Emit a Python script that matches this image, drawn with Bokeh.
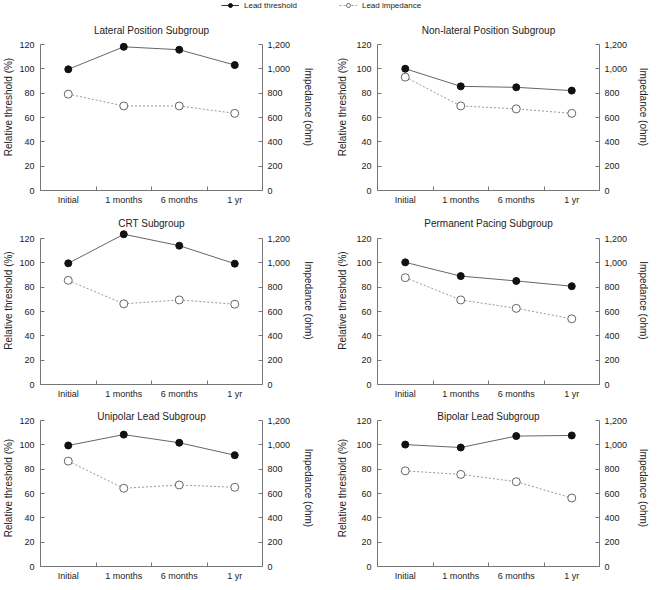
from bokeh.plotting import figure
from bokeh.models import Range1d, LinearAxis, FixedTicker, NumeralTickFormatter, Label, Legend, LegendItem
from bokeh.layouts import column, row
from bokeh.embed import file_html
from bokeh.resources import INLINE

# ---------------- data ----------------
categories = ["Initial", "1 months", "6 months", "1 yr"]

titles = ["Lateral Position Subgroup", "Non-lateral Position Subgroup",
          "CRT Subgroup", "Permanent Pacing Subgroup",
          "Unipolar Lead Subgroup", "Bipolar Lead Subgroup"]

threshold_lateral = [99.6, 118.1, 115.7, 103.1]
impedance_lateral = [792, 695, 695, 634]

threshold_nonlateral = [100.1, 85.6, 84.8, 82.1]
impedance_nonlateral = [932, 695, 671, 634]

threshold_crt = [99.6, 123.5, 114.1, 99.3]
impedance_crt = [856, 663, 695, 660]

threshold_permanent = [100.4, 89.1, 85.1, 80.8]
impedance_permanent = [878, 695, 626, 540]

threshold_unipolar = [99.5, 108.4, 101.7, 91.5]
impedance_unipolar = [866, 643, 670, 651]

threshold_bipolar = [100.2, 97.8, 107.2, 107.7]
impedance_bipolar = [786, 757, 697, 563]

left_ticks = [0, 20, 40, 60, 80, 100, 120]
right_ticks = [0, 200, 400, 600, 800, 1000, 1200]

# ---------------- style ----------------
FONT = "Liberation Sans"
AXIS_COLOR = "#777777"
TEXT_COLOR = "#222222"
FW = 222
PX_PER_UNIT = 146 / 120   # 120 units -> 146 px


def make_panel(title, thr, imp, b_left, b_right, b_top, b_bottom, ext, title_off,
               ylab_standoff, rlab_standoff):
    span = int(round(120 * PX_PER_UNIT))
    fh = span + ext
    ytop = fh / PX_PER_UNIT
    p = figure(frame_width=FW, frame_height=fh,
               x_range=Range1d(0, len(categories)), y_range=Range1d(0, ytop),
               output_backend="svg", toolbar_location=None,
               min_border_left=b_left, min_border_right=b_right,
               min_border_top=b_top, min_border_bottom=b_bottom)
    p.outline_line_color = None
    p.xgrid.visible = False
    p.ygrid.visible = False
    p.background_fill_color = "white"
    p.border_fill_color = "white"
    p.extra_y_ranges = {"imp": Range1d(0, ytop * 10)}

    xs = [i + 0.5 for i in range(len(categories))]

    xa = p.xaxis[0]
    xa.ticker = FixedTicker(ticks=xs, minor_ticks=list(range(1, len(categories))))
    xa.major_label_overrides = {x: c for x, c in zip(xs, categories)}
    xa.major_tick_in = 0
    xa.major_tick_out = 0
    xa.minor_tick_in = 4
    xa.minor_tick_out = 0
    xa.major_label_standoff = 4

    ya = p.yaxis[0]
    ya.ticker = FixedTicker(ticks=left_ticks)
    ya.bounds = (left_ticks[0], left_ticks[-1])
    ya.major_tick_in = 4
    ya.major_tick_out = 0
    ya.minor_tick_in = 0
    ya.minor_tick_out = 0
    ya.major_label_standoff = 6
    ya.axis_label = "Relative threshold (%)"
    ya.axis_label_standoff = ylab_standoff

    ra = LinearAxis(y_range_name="imp", ticker=FixedTicker(ticks=right_ticks),
                    formatter=NumeralTickFormatter(format="0,0"),
                    axis_label="Impedance (ohm)",
                    bounds=(right_ticks[0], right_ticks[-1]))
    ra.major_tick_in = 4
    ra.major_tick_out = 0
    ra.minor_tick_in = 0
    ra.minor_tick_out = 0
    ra.major_label_standoff = 5
    ra.axis_label_standoff = rlab_standoff
    p.add_layout(ra, "right")

    for ax in (xa, ya, ra):
        ax.axis_line_color = AXIS_COLOR
        ax.major_tick_line_color = AXIS_COLOR
        ax.minor_tick_line_color = AXIS_COLOR
        ax.major_label_text_font = FONT
        ax.major_label_text_font_size = "9px"
        ax.major_label_text_color = TEXT_COLOR
        ax.axis_label_text_font = FONT
        ax.axis_label_text_font_size = "10px"
        ax.axis_label_text_font_style = "normal"
        ax.axis_label_text_color = TEXT_COLOR

    p.line(xs, imp, y_range_name="imp", line_color="#999999", line_width=1,
           line_dash="2 2")
    p.scatter(xs, imp, y_range_name="imp", marker="circle", size=8,
              fill_color="white", line_color="#666666", line_width=1)
    p.line(xs, thr, line_color="#666666", line_width=1)
    p.scatter(xs, thr, marker="circle", size=7, fill_color="#111111",
              line_color="#111111")

    p.add_layout(Label(x=FW / 2, y=span + title_off, x_units="screen",
                       y_units="screen", text=title, text_align="center",
                       text_baseline="middle", text_font=FONT,
                       text_font_size="10px", text_color=TEXT_COLOR))
    return p


panels_data = [
    (threshold_lateral, impedance_lateral),
    (threshold_nonlateral, impedance_nonlateral),
    (threshold_crt, impedance_crt),
    (threshold_permanent, impedance_permanent),
    (threshold_unipolar, impedance_unipolar),
    (threshold_bipolar, impedance_bipolar),
]

# top border, bottom border, frame extension above 120 (px), title offset above 120 (px)
row_borders = [(13, 24, 21, 14), (2, 20, 22, 15), (5, 16, 11, 4)]
# left border, right border, left-label standoff, right-label standoff
col_borders = [(35, 65, 2, 10), (50, 49, 5, 8)]

rows = []
for r in range(3):
    figs = []
    for c in range(2):
        i = r * 2 + c
        thr, imp = panels_data[i]
        bt, bb, ext, toff = row_borders[r]
        bl, br, ys, rs = col_borders[c]
        figs.append(make_panel(titles[i], thr, imp, bl, br, bt, bb, ext, toff, ys, rs))
    rows.append(row(*figs, spacing=0))

lg = figure(width=643, height=10, min_border=0, x_range=Range1d(0, 1),
            y_range=Range1d(0, 1), x_axis_type=None, y_axis_type=None,
            output_backend="svg", toolbar_location=None)
lg.outline_line_color = None
lg.xgrid.visible = False
lg.ygrid.visible = False
nan = float("nan")
l1 = lg.line([nan], [nan], line_color="#333333", line_width=1)
m1 = lg.scatter([nan], [nan], marker="circle", size=6, fill_color="#111111",
                line_color="#111111")
l2 = lg.line([nan], [nan], line_color="#999999", line_width=1, line_dash="2 2")
m2 = lg.scatter([nan], [nan], marker="circle", size=7, fill_color="white",
                line_color="#666666")
legend = Legend(items=[LegendItem(label="Lead threshold", renderers=[l1, m1]),
                       LegendItem(label="Lead impedance", renderers=[l2, m2])],
                orientation="horizontal", location=(221, 0), spacing=42,
                glyph_width=18, glyph_height=10, label_height=10, label_standoff=5,
                padding=0, margin=0, border_line_color=None,
                background_fill_alpha=0, label_text_font=FONT,
                label_text_font_size="8px", label_text_color=TEXT_COLOR)
lg.add_layout(legend)

layout = column(lg, *rows, spacing=0)

open("out.html", "w").write(file_html(layout, INLINE))
